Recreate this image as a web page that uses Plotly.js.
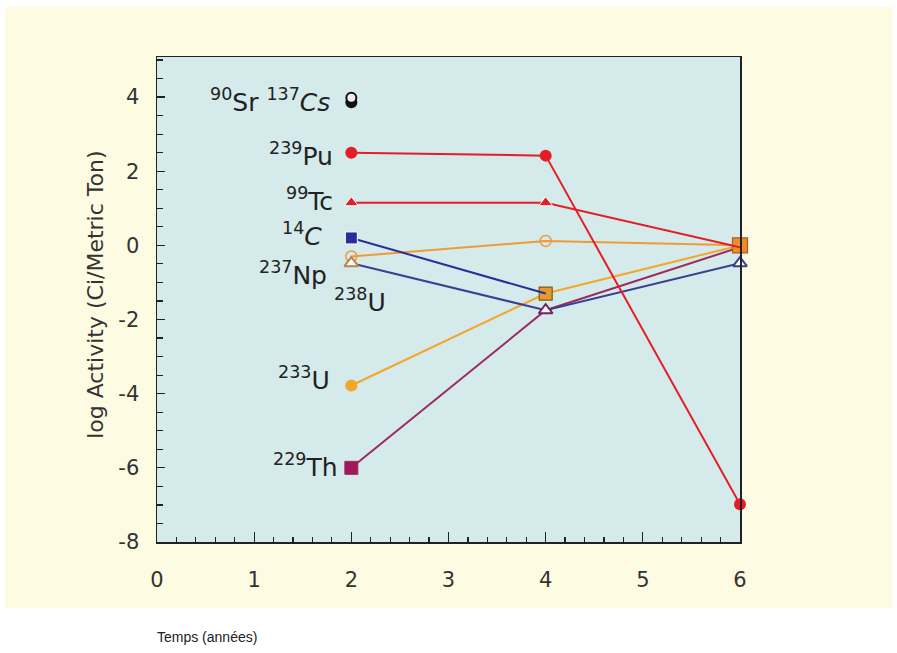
<!DOCTYPE html>
<html>
<head>
<meta charset="utf-8">
<script src="https://cdn.plot.ly/plotly-3.0.1.min.js"></script>
<style>html,body{margin:0;padding:0;background:#fff;}#chart{width:897px;height:653px;}</style>
</head>
<body>
<div id="chart"></div>
<script>
// Data
const years = [2, 4, 6];
const yearsShort = [2, 4];
const yearSingle = [2];
const sr90 = [3.98];
const cs137 = [3.86];
const pu239 = [2.5, 2.42, -6.98];
const tc99 = [1.15, 1.15, -0.05];
const c14 = [0.2, -1.3];
const np237 = [-0.3, 0.12, 0.0];
const u238 = [-0.48, -1.75, -0.48];
const u233 = [-3.78, -1.3, 0.0];
const th229 = [-6.0, -1.75, -0.05];
const xTickVals = [0, 1, 2, 3, 4, 5, 6];
const yTickVals = [4, 2, 0, -2, -4, -6, -8];
const yTickText = ['4', '2', '0', '-2', '-4', '-6', '-8'];

const labelFont = {family: 'DejaVu Sans', size: 25, color: '#222'};
const RED = '#e31e26', ORANGE = '#f4a52c', ORANGE2 = '#ef9a3a', BLUE = '#2b2b9b', NAVY = '#3a3f8f', PURPLE = '#9c2b5e';

const traces = [
  {name: '229Th', x: years, y: th229, mode: 'lines+markers', cliponaxis: false,
   line: {color: PURPLE, width: 2},
   marker: {symbol: 'square', size: [13, 0, 0], color: '#a0185a', opacity: 1}},
  {name: '233U', x: years, y: u233, mode: 'lines+markers', cliponaxis: false,
   line: {color: ORANGE, width: 2},
   marker: {symbol: ['circle', 'square', 'square'], size: [11, 13, 15], color: ['#f4a52c', '#e89a28', '#f08a2a'], opacity: 1,
            line: {color: ['#f4a52c', '#7a5a20', '#a0602a'], width: 1.2}}},
  {name: '237Np', x: years, y: np237, mode: 'lines+markers', cliponaxis: false,
   line: {color: ORANGE2, width: 2},
   marker: {symbol: 'circle-open', size: [11, 11, 0], color: ORANGE2, opacity: 1, line: {width: 1.5}}},
  {name: '14C', x: yearsShort, y: c14, mode: 'lines+markers', cliponaxis: false,
   line: {color: BLUE, width: 2},
   marker: {symbol: 'square', size: [12, 0], color: BLUE, opacity: 1}},
  {name: '238U', x: years, y: u238, mode: 'lines+markers', cliponaxis: false,
   line: {color: NAVY, width: 2},
   marker: {symbol: 'triangle-up', size: 12, color: '#ffffff', opacity: 1,
            line: {color: ['#c08050', '#7a2060', '#3a3f8f'], width: 2}}},
  {name: '99Tc', x: years, y: tc99, mode: 'lines+markers', cliponaxis: false,
   line: {color: RED, width: 2},
   marker: {symbol: 'triangle-up', size: [12, 12, 0], color: RED, opacity: 1}},
  {name: '239Pu', x: years, y: pu239, mode: 'lines+markers', cliponaxis: false,
   line: {color: RED, width: 2},
   marker: {symbol: 'circle', size: 12, color: RED}},
  {name: '137Cs', x: yearSingle, y: cs137, mode: 'markers', cliponaxis: false,
   marker: {symbol: 'circle', size: 12, color: '#111'}},
  {name: '90Sr', x: yearSingle, y: sr90, mode: 'markers', cliponaxis: false,
   marker: {symbol: 'circle', size: 10, color: '#eeeeee', line: {color: '#111', width: 2}}}
];

const ann = (text, x, y, xanchor) => ({text, x, y, xref: 'x', yref: 'y', xanchor: xanchor || 'right', yanchor: 'middle', showarrow: false, font: labelFont});

const layout = {
  width: 897, height: 653,
  margin: {l: 157, r: 157, t: 57, b: 111},
  paper_bgcolor: '#ffffff',
  plot_bgcolor: '#d5eaea',
  showlegend: false,
  xaxis: {
    range: [0, 6], tickvals: xTickVals, ticks: 'inside', ticklen: 10, tickwidth: 1.2, tickcolor: '#222',
    showline: true, linecolor: '#222', linewidth: 1.5, mirror: true, showgrid: false, zeroline: false,
    tickfont: {family: 'DejaVu Sans', size: 21, color: '#333'}, ticklabelstandoff: 18,
    minor: {dtick: 0.2, ticks: 'inside', ticklen: 5, tickcolor: '#222', showgrid: false}
  },
  yaxis: {
    range: [-8, 5.08], tickvals: yTickVals, ticktext: yTickText, ticks: 'inside', ticklen: 8, tickwidth: 1.2, tickcolor: '#222',
    showline: true, linecolor: '#222', linewidth: 1.5, mirror: true, showgrid: false, zeroline: false,
    tickfont: {family: 'DejaVu Sans', size: 21, color: '#333'}, ticklabelstandoff: 12,
    minor: {dtick: 0.5, ticks: 'inside', ticklen: 6, tickcolor: '#222', showgrid: false}
  },
  shapes: [
    {type: 'rect', xref: 'paper', yref: 'paper', x0: -0.261, x1: 1.262, y0: -0.136, y1: 1.103,
     fillcolor: '#fdfbe1', line: {width: 0}, layer: 'below'},
    {type: 'rect', xref: 'paper', yref: 'paper', x0: 0, x1: 1, y0: 0, y1: 1,
     fillcolor: '#d5eaea', line: {width: 0}, layer: 'below'}
  ],
  annotations: [
    ann('<sup>90</sup>Sr <sup>137</sup><i>Cs</i>', 1.8, 3.92),
    ann('<sup>239</sup>Pu', 1.83, 2.45),
    ann('<sup>99</sup>Tc', 1.83, 1.25),
    ann('<sup>14</sup><i>C</i>', 1.72, 0.3),
    ann('<sup>237</sup>Np', 1.77, -0.75),
    ann('<sup>238</sup>U', 1.8, -1.5, 'left'),
    ann('<sup>233</sup>U', 1.8, -3.6),
    ann('<sup>229</sup>Th', 1.88, -5.95),
    {text: 'log Activity (Ci/Metric Ton)', xref: 'paper', yref: 'paper', x: -0.106, y: 0.51,
     textangle: -90, showarrow: false, xanchor: 'center', yanchor: 'middle',
     font: {family: 'DejaVu Sans', size: 22, color: '#333'}},
    {text: 'Temps (années)', xref: 'paper', yref: 'paper', x: -0.004, y: -0.195,
     xanchor: 'left', yanchor: 'middle', showarrow: false,
     font: {family: 'Liberation Sans', size: 14, color: '#222'}}
  ]
};

Plotly.newPlot('chart', traces, layout, {displayModeBar: false, staticPlot: true});
</script>
</body>
</html>
